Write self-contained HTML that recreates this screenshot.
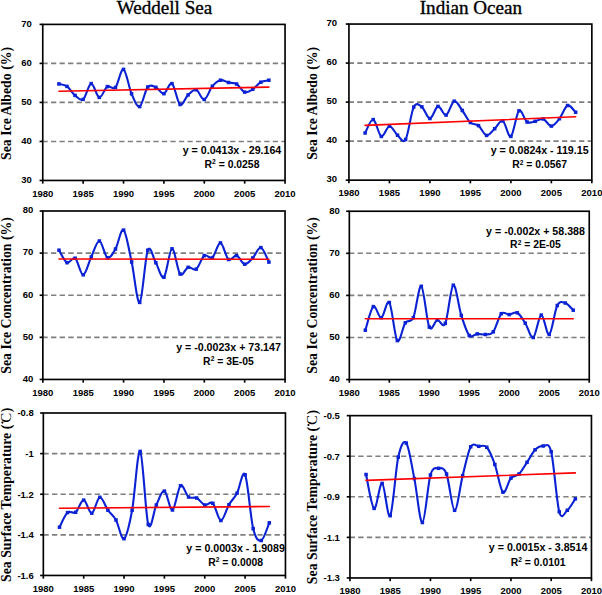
<!DOCTYPE html>
<html><head><meta charset="utf-8"><style>
html,body{margin:0;padding:0;background:#fff;}
svg{display:block;}

.tk{font-family:"Liberation Sans",sans-serif;font-weight:bold;font-size:9.5px;fill:#000;}
.eq{font-family:"Liberation Sans",sans-serif;font-weight:bold;font-size:10.65px;fill:#000;}
.sup{font-size:6.6px;}
.eq2{font-family:"Liberation Sans",sans-serif;font-weight:bold;font-size:10.4px;fill:#000;}
.ttl{font-family:"Liberation Serif",serif;font-size:19.1px;fill:#000;stroke:#000;stroke-width:0.35px;}
.yl{font-family:"Liberation Serif",serif;font-weight:bold;font-size:13.8px;fill:#000;}
</style></head><body>
<svg width="602" height="595" viewBox="0 0 602 595">
<rect width="602" height="595" fill="#fff"/>
<line x1="42.75" y1="63.41" x2="285.05" y2="63.41" stroke="#7f7f7f" stroke-width="1.6" stroke-dasharray="5.246 3.284" stroke-dashoffset="0.28"/>
<line x1="42.75" y1="102.42" x2="285.05" y2="102.42" stroke="#7f7f7f" stroke-width="1.6" stroke-dasharray="5.246 3.284" stroke-dashoffset="0.28"/>
<line x1="42.75" y1="141.44" x2="285.05" y2="141.44" stroke="#7f7f7f" stroke-width="1.6" stroke-dasharray="5.246 3.284" stroke-dashoffset="0.28"/>
<rect x="42.75" y="24.40" width="242.30" height="156.05" fill="none" stroke="#000" stroke-width="1.65"/>
<line x1="39.55" y1="24.40" x2="42.75" y2="24.40" stroke="#000" stroke-width="1.65"/>
<text transform="translate(31.80,26.70) scale(1,1.05)" text-anchor="end" class="tk">70</text>
<line x1="39.55" y1="63.41" x2="42.75" y2="63.41" stroke="#000" stroke-width="1.65"/>
<text transform="translate(31.80,65.71) scale(1,1.05)" text-anchor="end" class="tk">60</text>
<line x1="39.55" y1="102.42" x2="42.75" y2="102.42" stroke="#000" stroke-width="1.65"/>
<text transform="translate(31.80,104.72) scale(1,1.05)" text-anchor="end" class="tk">50</text>
<line x1="39.55" y1="141.44" x2="42.75" y2="141.44" stroke="#000" stroke-width="1.65"/>
<text transform="translate(31.80,143.74) scale(1,1.05)" text-anchor="end" class="tk">40</text>
<line x1="39.55" y1="180.45" x2="42.75" y2="180.45" stroke="#000" stroke-width="1.65"/>
<text transform="translate(31.80,182.75) scale(1,1.05)" text-anchor="end" class="tk">30</text>
<line x1="42.75" y1="180.45" x2="42.75" y2="183.65" stroke="#000" stroke-width="1.65"/>
<text transform="translate(42.75,196.65) scale(1,1.05)" text-anchor="middle" class="tk">1980</text>
<line x1="83.13" y1="180.45" x2="83.13" y2="183.65" stroke="#000" stroke-width="1.65"/>
<text transform="translate(83.13,196.65) scale(1,1.05)" text-anchor="middle" class="tk">1985</text>
<line x1="123.52" y1="180.45" x2="123.52" y2="183.65" stroke="#000" stroke-width="1.65"/>
<text transform="translate(123.52,196.65) scale(1,1.05)" text-anchor="middle" class="tk">1990</text>
<line x1="163.90" y1="180.45" x2="163.90" y2="183.65" stroke="#000" stroke-width="1.65"/>
<text transform="translate(163.90,196.65) scale(1,1.05)" text-anchor="middle" class="tk">1995</text>
<line x1="204.28" y1="180.45" x2="204.28" y2="183.65" stroke="#000" stroke-width="1.65"/>
<text transform="translate(204.28,196.65) scale(1,1.05)" text-anchor="middle" class="tk">2000</text>
<line x1="244.67" y1="180.45" x2="244.67" y2="183.65" stroke="#000" stroke-width="1.65"/>
<text transform="translate(244.67,196.65) scale(1,1.05)" text-anchor="middle" class="tk">2005</text>
<line x1="285.05" y1="180.45" x2="285.05" y2="183.65" stroke="#000" stroke-width="1.65"/>
<text transform="translate(285.05,196.65) scale(1,1.05)" text-anchor="middle" class="tk">2010</text>
<path d="M58.90 83.90 C60.25 84.32 64.29 84.48 66.98 86.40 C69.67 88.32 72.36 93.23 75.06 95.40 C77.75 97.57 80.44 101.37 83.13 99.40 C85.83 97.43 88.52 83.93 91.21 83.60 C93.90 83.27 96.59 96.90 99.29 97.40 C101.98 97.90 104.67 88.25 107.36 86.60 C110.06 84.95 112.75 90.37 115.44 87.50 C118.13 84.63 120.82 68.35 123.52 69.40 C126.21 70.45 128.90 87.60 131.59 93.80 C134.29 100.00 136.98 107.73 139.67 106.60 C142.36 105.47 145.05 90.22 147.75 87.00 C150.44 83.78 153.13 86.18 155.82 87.30 C158.52 88.42 161.21 94.32 163.90 93.70 C166.59 93.08 169.28 81.80 171.98 83.60 C174.67 85.40 177.36 102.62 180.05 104.50 C182.75 106.38 185.44 97.35 188.13 94.90 C190.82 92.45 193.51 89.03 196.21 89.80 C198.90 90.57 201.59 100.10 204.28 99.50 C206.98 98.90 209.67 89.42 212.36 86.20 C215.05 82.98 217.74 80.82 220.44 80.20 C223.13 79.58 225.82 81.87 228.51 82.50 C231.21 83.13 233.90 82.40 236.59 84.00 C239.28 85.60 241.97 91.22 244.67 92.10 C247.36 92.98 250.05 90.95 252.74 89.30 C255.44 87.65 258.13 83.72 260.82 82.20 C263.51 80.68 267.55 80.53 268.90 80.20" fill="none" stroke="#0a22d4" stroke-width="2.1" stroke-linejoin="round"/>
<rect x="57.15" y="82.15" width="3.5" height="3.5" fill="#0a22d4"/>
<rect x="65.23" y="84.65" width="3.5" height="3.5" fill="#0a22d4"/>
<rect x="73.31" y="93.65" width="3.5" height="3.5" fill="#0a22d4"/>
<rect x="81.38" y="97.65" width="3.5" height="3.5" fill="#0a22d4"/>
<rect x="89.46" y="81.85" width="3.5" height="3.5" fill="#0a22d4"/>
<rect x="97.54" y="95.65" width="3.5" height="3.5" fill="#0a22d4"/>
<rect x="105.61" y="84.85" width="3.5" height="3.5" fill="#0a22d4"/>
<rect x="113.69" y="85.75" width="3.5" height="3.5" fill="#0a22d4"/>
<rect x="121.77" y="67.65" width="3.5" height="3.5" fill="#0a22d4"/>
<rect x="129.84" y="92.05" width="3.5" height="3.5" fill="#0a22d4"/>
<rect x="137.92" y="104.85" width="3.5" height="3.5" fill="#0a22d4"/>
<rect x="146.00" y="85.25" width="3.5" height="3.5" fill="#0a22d4"/>
<rect x="154.07" y="85.55" width="3.5" height="3.5" fill="#0a22d4"/>
<rect x="162.15" y="91.95" width="3.5" height="3.5" fill="#0a22d4"/>
<rect x="170.23" y="81.85" width="3.5" height="3.5" fill="#0a22d4"/>
<rect x="178.30" y="102.75" width="3.5" height="3.5" fill="#0a22d4"/>
<rect x="186.38" y="93.15" width="3.5" height="3.5" fill="#0a22d4"/>
<rect x="194.46" y="88.05" width="3.5" height="3.5" fill="#0a22d4"/>
<rect x="202.53" y="97.75" width="3.5" height="3.5" fill="#0a22d4"/>
<rect x="210.61" y="84.45" width="3.5" height="3.5" fill="#0a22d4"/>
<rect x="218.69" y="78.45" width="3.5" height="3.5" fill="#0a22d4"/>
<rect x="226.76" y="80.75" width="3.5" height="3.5" fill="#0a22d4"/>
<rect x="234.84" y="82.25" width="3.5" height="3.5" fill="#0a22d4"/>
<rect x="242.92" y="90.35" width="3.5" height="3.5" fill="#0a22d4"/>
<rect x="250.99" y="87.55" width="3.5" height="3.5" fill="#0a22d4"/>
<rect x="259.07" y="80.45" width="3.5" height="3.5" fill="#0a22d4"/>
<rect x="267.15" y="78.45" width="3.5" height="3.5" fill="#0a22d4"/>
<line x1="58.90" y1="91.20" x2="268.90" y2="87.10" stroke="#ff0000" stroke-width="1.6" stroke-linecap="round"/>
<line x1="42.84" y1="253.11" x2="285.05" y2="253.11" stroke="#7f7f7f" stroke-width="1.6" stroke-dasharray="5.320 3.330" stroke-dashoffset="0.49"/>
<line x1="42.84" y1="295.23" x2="285.05" y2="295.23" stroke="#7f7f7f" stroke-width="1.6" stroke-dasharray="5.320 3.330" stroke-dashoffset="0.49"/>
<line x1="42.84" y1="337.34" x2="285.05" y2="337.34" stroke="#7f7f7f" stroke-width="1.6" stroke-dasharray="5.320 3.330" stroke-dashoffset="0.49"/>
<rect x="42.84" y="211.00" width="242.21" height="168.45" fill="none" stroke="#000" stroke-width="1.65"/>
<line x1="39.64" y1="211.00" x2="42.84" y2="211.00" stroke="#000" stroke-width="1.65"/>
<text transform="translate(33.30,213.30) scale(1,1.05)" text-anchor="end" class="tk">80</text>
<line x1="39.64" y1="253.11" x2="42.84" y2="253.11" stroke="#000" stroke-width="1.65"/>
<text transform="translate(33.30,255.41) scale(1,1.05)" text-anchor="end" class="tk">70</text>
<line x1="39.64" y1="295.23" x2="42.84" y2="295.23" stroke="#000" stroke-width="1.65"/>
<text transform="translate(33.30,297.53) scale(1,1.05)" text-anchor="end" class="tk">60</text>
<line x1="39.64" y1="337.34" x2="42.84" y2="337.34" stroke="#000" stroke-width="1.65"/>
<text transform="translate(33.30,339.64) scale(1,1.05)" text-anchor="end" class="tk">50</text>
<line x1="39.64" y1="379.45" x2="42.84" y2="379.45" stroke="#000" stroke-width="1.65"/>
<text transform="translate(33.30,381.75) scale(1,1.05)" text-anchor="end" class="tk">40</text>
<line x1="42.84" y1="379.45" x2="42.84" y2="382.65" stroke="#000" stroke-width="1.65"/>
<text transform="translate(42.84,395.65) scale(1,1.05)" text-anchor="middle" class="tk">1980</text>
<line x1="83.21" y1="379.45" x2="83.21" y2="382.65" stroke="#000" stroke-width="1.65"/>
<text transform="translate(83.21,395.65) scale(1,1.05)" text-anchor="middle" class="tk">1985</text>
<line x1="123.58" y1="379.45" x2="123.58" y2="382.65" stroke="#000" stroke-width="1.65"/>
<text transform="translate(123.58,395.65) scale(1,1.05)" text-anchor="middle" class="tk">1990</text>
<line x1="163.94" y1="379.45" x2="163.94" y2="382.65" stroke="#000" stroke-width="1.65"/>
<text transform="translate(163.94,395.65) scale(1,1.05)" text-anchor="middle" class="tk">1995</text>
<line x1="204.31" y1="379.45" x2="204.31" y2="382.65" stroke="#000" stroke-width="1.65"/>
<text transform="translate(204.31,395.65) scale(1,1.05)" text-anchor="middle" class="tk">2000</text>
<line x1="244.68" y1="379.45" x2="244.68" y2="382.65" stroke="#000" stroke-width="1.65"/>
<text transform="translate(244.68,395.65) scale(1,1.05)" text-anchor="middle" class="tk">2005</text>
<line x1="285.05" y1="379.45" x2="285.05" y2="382.65" stroke="#000" stroke-width="1.65"/>
<text transform="translate(285.05,395.65) scale(1,1.05)" text-anchor="middle" class="tk">2010</text>
<path d="M58.99 250.20 C60.33 252.28 64.37 261.37 67.06 262.70 C69.75 264.03 72.44 256.18 75.13 258.20 C77.83 260.22 80.52 275.02 83.21 274.80 C85.90 274.58 88.59 262.53 91.28 256.90 C93.97 251.27 96.66 240.87 99.36 241.00 C102.05 241.13 104.74 256.37 107.43 257.70 C110.12 259.03 112.81 253.60 115.50 249.00 C118.19 244.40 120.89 227.93 123.58 230.10 C126.27 232.27 128.96 249.95 131.65 262.00 C134.34 274.05 137.03 304.37 139.72 302.40 C142.42 300.43 145.11 256.80 147.80 250.20 C150.49 243.60 153.18 258.30 155.87 262.80 C158.56 267.30 161.25 279.53 163.94 277.20 C166.64 274.87 169.33 249.33 172.02 248.80 C174.71 248.27 177.40 270.92 180.09 274.00 C182.78 277.08 185.47 268.12 188.17 267.30 C190.86 266.48 193.55 271.05 196.24 269.10 C198.93 267.15 201.62 257.52 204.31 255.60 C207.00 253.68 209.70 259.72 212.39 257.60 C215.08 255.48 217.77 242.58 220.46 242.90 C223.15 243.22 225.84 257.38 228.53 259.50 C231.23 261.62 233.92 254.82 236.61 255.60 C239.30 256.38 241.99 263.80 244.68 264.20 C247.37 264.60 250.06 260.77 252.76 258.00 C255.45 255.23 258.14 246.92 260.83 247.60 C263.52 248.28 267.56 259.68 268.90 262.10" fill="none" stroke="#0a22d4" stroke-width="2.1" stroke-linejoin="round"/>
<rect x="57.24" y="248.45" width="3.5" height="3.5" fill="#0a22d4"/>
<rect x="65.31" y="260.95" width="3.5" height="3.5" fill="#0a22d4"/>
<rect x="73.38" y="256.45" width="3.5" height="3.5" fill="#0a22d4"/>
<rect x="81.46" y="273.05" width="3.5" height="3.5" fill="#0a22d4"/>
<rect x="89.53" y="255.15" width="3.5" height="3.5" fill="#0a22d4"/>
<rect x="97.61" y="239.25" width="3.5" height="3.5" fill="#0a22d4"/>
<rect x="105.68" y="255.95" width="3.5" height="3.5" fill="#0a22d4"/>
<rect x="113.75" y="247.25" width="3.5" height="3.5" fill="#0a22d4"/>
<rect x="121.83" y="228.35" width="3.5" height="3.5" fill="#0a22d4"/>
<rect x="129.90" y="260.25" width="3.5" height="3.5" fill="#0a22d4"/>
<rect x="137.97" y="300.65" width="3.5" height="3.5" fill="#0a22d4"/>
<rect x="146.05" y="248.45" width="3.5" height="3.5" fill="#0a22d4"/>
<rect x="154.12" y="261.05" width="3.5" height="3.5" fill="#0a22d4"/>
<rect x="162.19" y="275.45" width="3.5" height="3.5" fill="#0a22d4"/>
<rect x="170.27" y="247.05" width="3.5" height="3.5" fill="#0a22d4"/>
<rect x="178.34" y="272.25" width="3.5" height="3.5" fill="#0a22d4"/>
<rect x="186.42" y="265.55" width="3.5" height="3.5" fill="#0a22d4"/>
<rect x="194.49" y="267.35" width="3.5" height="3.5" fill="#0a22d4"/>
<rect x="202.56" y="253.85" width="3.5" height="3.5" fill="#0a22d4"/>
<rect x="210.64" y="255.85" width="3.5" height="3.5" fill="#0a22d4"/>
<rect x="218.71" y="241.15" width="3.5" height="3.5" fill="#0a22d4"/>
<rect x="226.78" y="257.75" width="3.5" height="3.5" fill="#0a22d4"/>
<rect x="234.86" y="253.85" width="3.5" height="3.5" fill="#0a22d4"/>
<rect x="242.93" y="262.45" width="3.5" height="3.5" fill="#0a22d4"/>
<rect x="251.01" y="256.25" width="3.5" height="3.5" fill="#0a22d4"/>
<rect x="259.08" y="245.85" width="3.5" height="3.5" fill="#0a22d4"/>
<rect x="267.15" y="260.35" width="3.5" height="3.5" fill="#0a22d4"/>
<line x1="58.99" y1="259.00" x2="268.90" y2="259.30" stroke="#ff0000" stroke-width="1.6" stroke-linecap="round"/>
<line x1="43.34" y1="453.61" x2="285.45" y2="453.61" stroke="#7f7f7f" stroke-width="1.6" stroke-dasharray="5.264 3.296" stroke-dashoffset="-0.10"/>
<line x1="43.34" y1="494.23" x2="285.45" y2="494.23" stroke="#7f7f7f" stroke-width="1.6" stroke-dasharray="5.264 3.296" stroke-dashoffset="-0.10"/>
<line x1="43.34" y1="534.84" x2="285.45" y2="534.84" stroke="#7f7f7f" stroke-width="1.6" stroke-dasharray="5.264 3.296" stroke-dashoffset="-0.10"/>
<rect x="43.34" y="413.00" width="242.11" height="162.45" fill="none" stroke="#000" stroke-width="1.65"/>
<line x1="40.14" y1="413.00" x2="43.34" y2="413.00" stroke="#000" stroke-width="1.65"/>
<text transform="translate(33.80,416.30) scale(1,1.05)" text-anchor="end" class="tk">-0.8</text>
<line x1="40.14" y1="453.61" x2="43.34" y2="453.61" stroke="#000" stroke-width="1.65"/>
<text transform="translate(33.80,456.91) scale(1,1.05)" text-anchor="end" class="tk">-1</text>
<line x1="40.14" y1="494.23" x2="43.34" y2="494.23" stroke="#000" stroke-width="1.65"/>
<text transform="translate(33.80,497.53) scale(1,1.05)" text-anchor="end" class="tk">-1.2</text>
<line x1="40.14" y1="534.84" x2="43.34" y2="534.84" stroke="#000" stroke-width="1.65"/>
<text transform="translate(33.80,538.14) scale(1,1.05)" text-anchor="end" class="tk">-1.4</text>
<line x1="40.14" y1="575.45" x2="43.34" y2="575.45" stroke="#000" stroke-width="1.65"/>
<text transform="translate(33.80,578.75) scale(1,1.05)" text-anchor="end" class="tk">-1.6</text>
<line x1="43.34" y1="575.45" x2="43.34" y2="578.65" stroke="#000" stroke-width="1.65"/>
<text transform="translate(43.34,591.65) scale(1,1.05)" text-anchor="middle" class="tk">1980</text>
<line x1="83.69" y1="575.45" x2="83.69" y2="578.65" stroke="#000" stroke-width="1.65"/>
<text transform="translate(83.69,591.65) scale(1,1.05)" text-anchor="middle" class="tk">1985</text>
<line x1="124.04" y1="575.45" x2="124.04" y2="578.65" stroke="#000" stroke-width="1.65"/>
<text transform="translate(124.04,591.65) scale(1,1.05)" text-anchor="middle" class="tk">1990</text>
<line x1="164.39" y1="575.45" x2="164.39" y2="578.65" stroke="#000" stroke-width="1.65"/>
<text transform="translate(164.39,591.65) scale(1,1.05)" text-anchor="middle" class="tk">1995</text>
<line x1="204.75" y1="575.45" x2="204.75" y2="578.65" stroke="#000" stroke-width="1.65"/>
<text transform="translate(204.75,591.65) scale(1,1.05)" text-anchor="middle" class="tk">2000</text>
<line x1="245.10" y1="575.45" x2="245.10" y2="578.65" stroke="#000" stroke-width="1.65"/>
<text transform="translate(245.10,591.65) scale(1,1.05)" text-anchor="middle" class="tk">2005</text>
<line x1="285.45" y1="575.45" x2="285.45" y2="578.65" stroke="#000" stroke-width="1.65"/>
<text transform="translate(285.45,591.65) scale(1,1.05)" text-anchor="middle" class="tk">2010</text>
<path d="M59.48 527.20 C60.83 524.77 64.86 515.08 67.55 512.60 C70.24 510.12 72.93 514.38 75.62 512.30 C78.31 510.22 81.00 499.95 83.69 500.10 C86.38 500.25 89.07 513.67 91.76 513.20 C94.45 512.73 97.14 497.80 99.83 497.30 C102.52 496.80 105.21 506.42 107.90 510.20 C110.59 513.98 113.28 515.25 115.97 520.00 C118.66 524.75 121.35 540.32 124.04 538.70 C126.73 537.08 129.42 524.85 132.11 510.30 C134.80 495.75 137.49 449.03 140.18 451.40 C142.87 453.77 145.56 515.57 148.25 524.50 C150.94 533.43 153.63 510.57 156.32 505.00 C159.01 499.43 161.70 490.27 164.39 491.10 C167.09 491.93 169.78 510.90 172.47 510.00 C175.16 509.10 177.85 487.87 180.54 485.70 C183.23 483.53 185.92 494.95 188.61 497.00 C191.30 499.05 193.99 496.67 196.68 498.00 C199.37 499.33 202.06 504.12 204.75 505.00 C207.44 505.88 210.13 500.72 212.82 503.30 C215.51 505.88 218.20 520.27 220.89 520.50 C223.58 520.73 226.27 509.25 228.96 504.70 C231.65 500.15 234.34 498.18 237.03 493.20 C239.72 488.22 242.41 468.90 245.10 474.80 C247.79 480.70 250.48 517.65 253.17 528.60 C255.86 539.55 258.55 541.47 261.24 540.50 C263.93 539.53 267.96 525.75 269.31 522.80" fill="none" stroke="#0a22d4" stroke-width="2.1" stroke-linejoin="round"/>
<rect x="57.73" y="525.45" width="3.5" height="3.5" fill="#0a22d4"/>
<rect x="65.80" y="510.85" width="3.5" height="3.5" fill="#0a22d4"/>
<rect x="73.87" y="510.55" width="3.5" height="3.5" fill="#0a22d4"/>
<rect x="81.94" y="498.35" width="3.5" height="3.5" fill="#0a22d4"/>
<rect x="90.01" y="511.45" width="3.5" height="3.5" fill="#0a22d4"/>
<rect x="98.08" y="495.55" width="3.5" height="3.5" fill="#0a22d4"/>
<rect x="106.15" y="508.45" width="3.5" height="3.5" fill="#0a22d4"/>
<rect x="114.22" y="518.25" width="3.5" height="3.5" fill="#0a22d4"/>
<rect x="122.29" y="536.95" width="3.5" height="3.5" fill="#0a22d4"/>
<rect x="130.36" y="508.55" width="3.5" height="3.5" fill="#0a22d4"/>
<rect x="138.43" y="449.65" width="3.5" height="3.5" fill="#0a22d4"/>
<rect x="146.50" y="522.75" width="3.5" height="3.5" fill="#0a22d4"/>
<rect x="154.57" y="503.25" width="3.5" height="3.5" fill="#0a22d4"/>
<rect x="162.64" y="489.35" width="3.5" height="3.5" fill="#0a22d4"/>
<rect x="170.72" y="508.25" width="3.5" height="3.5" fill="#0a22d4"/>
<rect x="178.79" y="483.95" width="3.5" height="3.5" fill="#0a22d4"/>
<rect x="186.86" y="495.25" width="3.5" height="3.5" fill="#0a22d4"/>
<rect x="194.93" y="496.25" width="3.5" height="3.5" fill="#0a22d4"/>
<rect x="203.00" y="503.25" width="3.5" height="3.5" fill="#0a22d4"/>
<rect x="211.07" y="501.55" width="3.5" height="3.5" fill="#0a22d4"/>
<rect x="219.14" y="518.75" width="3.5" height="3.5" fill="#0a22d4"/>
<rect x="227.21" y="502.95" width="3.5" height="3.5" fill="#0a22d4"/>
<rect x="235.28" y="491.45" width="3.5" height="3.5" fill="#0a22d4"/>
<rect x="243.35" y="473.05" width="3.5" height="3.5" fill="#0a22d4"/>
<rect x="251.42" y="526.85" width="3.5" height="3.5" fill="#0a22d4"/>
<rect x="259.49" y="538.75" width="3.5" height="3.5" fill="#0a22d4"/>
<rect x="267.56" y="521.05" width="3.5" height="3.5" fill="#0a22d4"/>
<line x1="59.48" y1="508.30" x2="269.31" y2="506.50" stroke="#ff0000" stroke-width="1.6" stroke-linecap="round"/>
<line x1="348.94" y1="63.08" x2="591.85" y2="63.08" stroke="#7f7f7f" stroke-width="1.6" stroke-dasharray="5.246 3.284" stroke-dashoffset="0.17"/>
<line x1="348.94" y1="102.10" x2="591.85" y2="102.10" stroke="#7f7f7f" stroke-width="1.6" stroke-dasharray="5.246 3.284" stroke-dashoffset="0.17"/>
<line x1="348.94" y1="141.12" x2="591.85" y2="141.12" stroke="#7f7f7f" stroke-width="1.6" stroke-dasharray="5.246 3.284" stroke-dashoffset="0.17"/>
<rect x="348.94" y="24.05" width="242.91" height="156.10" fill="none" stroke="#000" stroke-width="1.65"/>
<line x1="345.74" y1="24.05" x2="348.94" y2="24.05" stroke="#000" stroke-width="1.65"/>
<text transform="translate(337.00,26.35) scale(1,1.05)" text-anchor="end" class="tk">70</text>
<line x1="345.74" y1="63.08" x2="348.94" y2="63.08" stroke="#000" stroke-width="1.65"/>
<text transform="translate(337.00,65.38) scale(1,1.05)" text-anchor="end" class="tk">60</text>
<line x1="345.74" y1="102.10" x2="348.94" y2="102.10" stroke="#000" stroke-width="1.65"/>
<text transform="translate(337.00,104.40) scale(1,1.05)" text-anchor="end" class="tk">50</text>
<line x1="345.74" y1="141.12" x2="348.94" y2="141.12" stroke="#000" stroke-width="1.65"/>
<text transform="translate(337.00,143.43) scale(1,1.05)" text-anchor="end" class="tk">40</text>
<line x1="345.74" y1="180.15" x2="348.94" y2="180.15" stroke="#000" stroke-width="1.65"/>
<text transform="translate(337.00,182.45) scale(1,1.05)" text-anchor="end" class="tk">30</text>
<line x1="348.94" y1="180.15" x2="348.94" y2="183.35" stroke="#000" stroke-width="1.65"/>
<text transform="translate(348.94,196.35) scale(1,1.05)" text-anchor="middle" class="tk">1980</text>
<line x1="389.43" y1="180.15" x2="389.43" y2="183.35" stroke="#000" stroke-width="1.65"/>
<text transform="translate(389.43,196.35) scale(1,1.05)" text-anchor="middle" class="tk">1985</text>
<line x1="429.91" y1="180.15" x2="429.91" y2="183.35" stroke="#000" stroke-width="1.65"/>
<text transform="translate(429.91,196.35) scale(1,1.05)" text-anchor="middle" class="tk">1990</text>
<line x1="470.39" y1="180.15" x2="470.39" y2="183.35" stroke="#000" stroke-width="1.65"/>
<text transform="translate(470.39,196.35) scale(1,1.05)" text-anchor="middle" class="tk">1995</text>
<line x1="510.88" y1="180.15" x2="510.88" y2="183.35" stroke="#000" stroke-width="1.65"/>
<text transform="translate(510.88,196.35) scale(1,1.05)" text-anchor="middle" class="tk">2000</text>
<line x1="551.37" y1="180.15" x2="551.37" y2="183.35" stroke="#000" stroke-width="1.65"/>
<text transform="translate(551.37,196.35) scale(1,1.05)" text-anchor="middle" class="tk">2005</text>
<line x1="591.85" y1="180.15" x2="591.85" y2="183.35" stroke="#000" stroke-width="1.65"/>
<text transform="translate(591.85,196.35) scale(1,1.05)" text-anchor="middle" class="tk">2010</text>
<path d="M365.13 133.00 C366.48 130.77 370.53 119.03 373.23 119.60 C375.93 120.17 378.63 135.30 381.33 136.40 C384.03 137.50 386.73 126.40 389.43 126.20 C392.12 126.00 394.82 132.98 397.52 135.20 C400.22 137.42 402.92 144.18 405.62 139.50 C408.32 134.82 411.02 112.55 413.72 107.10 C416.42 101.65 419.11 104.90 421.81 106.80 C424.51 108.70 427.21 118.57 429.91 118.50 C432.61 118.43 435.31 106.97 438.01 106.40 C440.71 105.83 443.40 115.97 446.10 115.10 C448.80 114.23 451.50 101.97 454.20 101.20 C456.90 100.43 459.60 106.95 462.30 110.50 C465.00 114.05 467.70 119.98 470.39 122.50 C473.09 125.02 475.79 123.45 478.49 125.60 C481.19 127.75 483.89 134.88 486.59 135.40 C489.29 135.92 491.99 131.12 494.69 128.70 C497.39 126.28 500.08 119.62 502.78 120.90 C505.48 122.18 508.18 138.08 510.88 136.40 C513.58 134.72 516.28 113.20 518.98 110.80 C521.68 108.40 524.38 120.25 527.07 122.00 C529.77 123.75 532.47 121.80 535.17 121.30 C537.87 120.80 540.57 118.20 543.27 119.00 C545.97 119.80 548.67 126.15 551.37 126.10 C554.06 126.05 556.76 122.13 559.46 118.70 C562.16 115.27 564.86 106.57 567.56 105.50 C570.26 104.43 574.31 111.17 575.66 112.30" fill="none" stroke="#0a22d4" stroke-width="2.1" stroke-linejoin="round"/>
<rect x="363.38" y="131.25" width="3.5" height="3.5" fill="#0a22d4"/>
<rect x="371.48" y="117.85" width="3.5" height="3.5" fill="#0a22d4"/>
<rect x="379.58" y="134.65" width="3.5" height="3.5" fill="#0a22d4"/>
<rect x="387.68" y="124.45" width="3.5" height="3.5" fill="#0a22d4"/>
<rect x="395.77" y="133.45" width="3.5" height="3.5" fill="#0a22d4"/>
<rect x="403.87" y="137.75" width="3.5" height="3.5" fill="#0a22d4"/>
<rect x="411.97" y="105.35" width="3.5" height="3.5" fill="#0a22d4"/>
<rect x="420.06" y="105.05" width="3.5" height="3.5" fill="#0a22d4"/>
<rect x="428.16" y="116.75" width="3.5" height="3.5" fill="#0a22d4"/>
<rect x="436.26" y="104.65" width="3.5" height="3.5" fill="#0a22d4"/>
<rect x="444.35" y="113.35" width="3.5" height="3.5" fill="#0a22d4"/>
<rect x="452.45" y="99.45" width="3.5" height="3.5" fill="#0a22d4"/>
<rect x="460.55" y="108.75" width="3.5" height="3.5" fill="#0a22d4"/>
<rect x="468.64" y="120.75" width="3.5" height="3.5" fill="#0a22d4"/>
<rect x="476.74" y="123.85" width="3.5" height="3.5" fill="#0a22d4"/>
<rect x="484.84" y="133.65" width="3.5" height="3.5" fill="#0a22d4"/>
<rect x="492.94" y="126.95" width="3.5" height="3.5" fill="#0a22d4"/>
<rect x="501.03" y="119.15" width="3.5" height="3.5" fill="#0a22d4"/>
<rect x="509.13" y="134.65" width="3.5" height="3.5" fill="#0a22d4"/>
<rect x="517.23" y="109.05" width="3.5" height="3.5" fill="#0a22d4"/>
<rect x="525.32" y="120.25" width="3.5" height="3.5" fill="#0a22d4"/>
<rect x="533.42" y="119.55" width="3.5" height="3.5" fill="#0a22d4"/>
<rect x="541.52" y="117.25" width="3.5" height="3.5" fill="#0a22d4"/>
<rect x="549.62" y="124.35" width="3.5" height="3.5" fill="#0a22d4"/>
<rect x="557.71" y="116.95" width="3.5" height="3.5" fill="#0a22d4"/>
<rect x="565.81" y="103.75" width="3.5" height="3.5" fill="#0a22d4"/>
<rect x="573.91" y="110.55" width="3.5" height="3.5" fill="#0a22d4"/>
<line x1="365.13" y1="125.40" x2="575.66" y2="116.80" stroke="#ff0000" stroke-width="1.6" stroke-linecap="round"/>
<line x1="349.34" y1="253.32" x2="589.25" y2="253.32" stroke="#7f7f7f" stroke-width="1.6" stroke-dasharray="5.258 3.292" stroke-dashoffset="0.29"/>
<line x1="349.34" y1="295.40" x2="589.25" y2="295.40" stroke="#7f7f7f" stroke-width="1.6" stroke-dasharray="5.258 3.292" stroke-dashoffset="0.29"/>
<line x1="349.34" y1="337.48" x2="589.25" y2="337.48" stroke="#7f7f7f" stroke-width="1.6" stroke-dasharray="5.258 3.292" stroke-dashoffset="0.29"/>
<rect x="349.34" y="211.25" width="239.91" height="168.30" fill="none" stroke="#000" stroke-width="1.65"/>
<line x1="346.14" y1="211.25" x2="349.34" y2="211.25" stroke="#000" stroke-width="1.65"/>
<text transform="translate(339.90,213.55) scale(1,1.05)" text-anchor="end" class="tk">80</text>
<line x1="346.14" y1="253.32" x2="349.34" y2="253.32" stroke="#000" stroke-width="1.65"/>
<text transform="translate(339.90,255.62) scale(1,1.05)" text-anchor="end" class="tk">70</text>
<line x1="346.14" y1="295.40" x2="349.34" y2="295.40" stroke="#000" stroke-width="1.65"/>
<text transform="translate(339.90,297.70) scale(1,1.05)" text-anchor="end" class="tk">60</text>
<line x1="346.14" y1="337.48" x2="349.34" y2="337.48" stroke="#000" stroke-width="1.65"/>
<text transform="translate(339.90,339.78) scale(1,1.05)" text-anchor="end" class="tk">50</text>
<line x1="346.14" y1="379.55" x2="349.34" y2="379.55" stroke="#000" stroke-width="1.65"/>
<text transform="translate(339.90,381.85) scale(1,1.05)" text-anchor="end" class="tk">40</text>
<line x1="349.34" y1="379.55" x2="349.34" y2="382.75" stroke="#000" stroke-width="1.65"/>
<text transform="translate(349.34,395.75) scale(1,1.05)" text-anchor="middle" class="tk">1980</text>
<line x1="389.32" y1="379.55" x2="389.32" y2="382.75" stroke="#000" stroke-width="1.65"/>
<text transform="translate(389.32,395.75) scale(1,1.05)" text-anchor="middle" class="tk">1985</text>
<line x1="429.31" y1="379.55" x2="429.31" y2="382.75" stroke="#000" stroke-width="1.65"/>
<text transform="translate(429.31,395.75) scale(1,1.05)" text-anchor="middle" class="tk">1990</text>
<line x1="469.29" y1="379.55" x2="469.29" y2="382.75" stroke="#000" stroke-width="1.65"/>
<text transform="translate(469.29,395.75) scale(1,1.05)" text-anchor="middle" class="tk">1995</text>
<line x1="509.28" y1="379.55" x2="509.28" y2="382.75" stroke="#000" stroke-width="1.65"/>
<text transform="translate(509.28,395.75) scale(1,1.05)" text-anchor="middle" class="tk">2000</text>
<line x1="549.26" y1="379.55" x2="549.26" y2="382.75" stroke="#000" stroke-width="1.65"/>
<text transform="translate(549.26,395.75) scale(1,1.05)" text-anchor="middle" class="tk">2005</text>
<line x1="589.25" y1="379.55" x2="589.25" y2="382.75" stroke="#000" stroke-width="1.65"/>
<text transform="translate(589.25,395.75) scale(1,1.05)" text-anchor="middle" class="tk">2010</text>
<path d="M365.33 330.20 C366.67 326.27 370.67 308.68 373.33 306.60 C376.00 304.52 378.66 318.38 381.33 317.70 C383.99 317.02 386.66 298.68 389.32 302.50 C391.99 306.32 394.66 337.22 397.32 340.60 C399.99 343.98 402.65 326.62 405.32 322.80 C407.98 318.98 410.65 323.78 413.32 317.70 C415.98 311.62 418.65 284.73 421.31 286.30 C423.98 287.87 426.64 321.48 429.31 327.10 C431.98 332.72 434.64 320.62 437.31 320.00 C439.97 319.38 442.64 329.20 445.30 323.40 C447.97 317.60 450.64 286.53 453.30 285.20 C455.97 283.87 458.63 307.02 461.30 315.40 C463.96 323.78 466.63 332.42 469.29 335.50 C471.96 338.58 474.63 334.07 477.29 333.90 C479.96 333.73 482.62 334.85 485.29 334.50 C487.95 334.15 490.62 335.27 493.29 331.80 C495.95 328.33 498.62 316.57 501.28 313.70 C503.95 310.83 506.61 314.75 509.28 314.60 C511.95 314.45 514.61 311.37 517.28 312.80 C519.94 314.23 522.61 319.08 525.27 323.20 C527.94 327.32 530.61 338.85 533.27 337.50 C535.94 336.15 538.60 315.62 541.27 315.10 C543.93 314.58 546.60 336.00 549.26 334.40 C551.93 332.80 554.60 310.73 557.26 305.50 C559.93 300.27 562.59 302.22 565.26 303.00 C567.92 303.78 571.92 309.00 573.26 310.20" fill="none" stroke="#0a22d4" stroke-width="2.1" stroke-linejoin="round"/>
<rect x="363.58" y="328.45" width="3.5" height="3.5" fill="#0a22d4"/>
<rect x="371.58" y="304.85" width="3.5" height="3.5" fill="#0a22d4"/>
<rect x="379.58" y="315.95" width="3.5" height="3.5" fill="#0a22d4"/>
<rect x="387.57" y="300.75" width="3.5" height="3.5" fill="#0a22d4"/>
<rect x="395.57" y="338.85" width="3.5" height="3.5" fill="#0a22d4"/>
<rect x="403.57" y="321.05" width="3.5" height="3.5" fill="#0a22d4"/>
<rect x="411.57" y="315.95" width="3.5" height="3.5" fill="#0a22d4"/>
<rect x="419.56" y="284.55" width="3.5" height="3.5" fill="#0a22d4"/>
<rect x="427.56" y="325.35" width="3.5" height="3.5" fill="#0a22d4"/>
<rect x="435.56" y="318.25" width="3.5" height="3.5" fill="#0a22d4"/>
<rect x="443.55" y="321.65" width="3.5" height="3.5" fill="#0a22d4"/>
<rect x="451.55" y="283.45" width="3.5" height="3.5" fill="#0a22d4"/>
<rect x="459.55" y="313.65" width="3.5" height="3.5" fill="#0a22d4"/>
<rect x="467.54" y="333.75" width="3.5" height="3.5" fill="#0a22d4"/>
<rect x="475.54" y="332.15" width="3.5" height="3.5" fill="#0a22d4"/>
<rect x="483.54" y="332.75" width="3.5" height="3.5" fill="#0a22d4"/>
<rect x="491.54" y="330.05" width="3.5" height="3.5" fill="#0a22d4"/>
<rect x="499.53" y="311.95" width="3.5" height="3.5" fill="#0a22d4"/>
<rect x="507.53" y="312.85" width="3.5" height="3.5" fill="#0a22d4"/>
<rect x="515.53" y="311.05" width="3.5" height="3.5" fill="#0a22d4"/>
<rect x="523.52" y="321.45" width="3.5" height="3.5" fill="#0a22d4"/>
<rect x="531.52" y="335.75" width="3.5" height="3.5" fill="#0a22d4"/>
<rect x="539.52" y="313.35" width="3.5" height="3.5" fill="#0a22d4"/>
<rect x="547.51" y="332.65" width="3.5" height="3.5" fill="#0a22d4"/>
<rect x="555.51" y="303.75" width="3.5" height="3.5" fill="#0a22d4"/>
<rect x="563.51" y="301.25" width="3.5" height="3.5" fill="#0a22d4"/>
<rect x="571.51" y="308.45" width="3.5" height="3.5" fill="#0a22d4"/>
<line x1="365.33" y1="318.70" x2="573.26" y2="318.80" stroke="#ff0000" stroke-width="1.6" stroke-linecap="round"/>
<line x1="349.95" y1="456.23" x2="591.45" y2="456.23" stroke="#7f7f7f" stroke-width="1.6" stroke-dasharray="5.252 3.288" stroke-dashoffset="0.19"/>
<line x1="349.95" y1="496.80" x2="591.45" y2="496.80" stroke="#7f7f7f" stroke-width="1.6" stroke-dasharray="5.252 3.288" stroke-dashoffset="0.19"/>
<line x1="349.95" y1="537.38" x2="591.45" y2="537.38" stroke="#7f7f7f" stroke-width="1.6" stroke-dasharray="5.252 3.288" stroke-dashoffset="0.19"/>
<rect x="349.95" y="415.65" width="241.50" height="162.30" fill="none" stroke="#000" stroke-width="1.65"/>
<line x1="346.75" y1="415.65" x2="349.95" y2="415.65" stroke="#000" stroke-width="1.65"/>
<text transform="translate(339.90,418.95) scale(1,1.05)" text-anchor="end" class="tk">-0.5</text>
<line x1="346.75" y1="456.23" x2="349.95" y2="456.23" stroke="#000" stroke-width="1.65"/>
<text transform="translate(339.90,459.53) scale(1,1.05)" text-anchor="end" class="tk">-0.7</text>
<line x1="346.75" y1="496.80" x2="349.95" y2="496.80" stroke="#000" stroke-width="1.65"/>
<text transform="translate(339.90,500.10) scale(1,1.05)" text-anchor="end" class="tk">-0.9</text>
<line x1="346.75" y1="537.38" x2="349.95" y2="537.38" stroke="#000" stroke-width="1.65"/>
<text transform="translate(339.90,540.67) scale(1,1.05)" text-anchor="end" class="tk">-1.1</text>
<line x1="346.75" y1="577.95" x2="349.95" y2="577.95" stroke="#000" stroke-width="1.65"/>
<text transform="translate(339.90,581.25) scale(1,1.05)" text-anchor="end" class="tk">-1.3</text>
<line x1="349.95" y1="577.95" x2="349.95" y2="581.15" stroke="#000" stroke-width="1.65"/>
<text transform="translate(349.95,594.15) scale(1,1.05)" text-anchor="middle" class="tk">1980</text>
<line x1="390.20" y1="577.95" x2="390.20" y2="581.15" stroke="#000" stroke-width="1.65"/>
<text transform="translate(390.20,594.15) scale(1,1.05)" text-anchor="middle" class="tk">1985</text>
<line x1="430.45" y1="577.95" x2="430.45" y2="581.15" stroke="#000" stroke-width="1.65"/>
<text transform="translate(430.45,594.15) scale(1,1.05)" text-anchor="middle" class="tk">1990</text>
<line x1="470.70" y1="577.95" x2="470.70" y2="581.15" stroke="#000" stroke-width="1.65"/>
<text transform="translate(470.70,594.15) scale(1,1.05)" text-anchor="middle" class="tk">1995</text>
<line x1="510.95" y1="577.95" x2="510.95" y2="581.15" stroke="#000" stroke-width="1.65"/>
<text transform="translate(510.95,594.15) scale(1,1.05)" text-anchor="middle" class="tk">2000</text>
<line x1="551.20" y1="577.95" x2="551.20" y2="581.15" stroke="#000" stroke-width="1.65"/>
<text transform="translate(551.20,594.15) scale(1,1.05)" text-anchor="middle" class="tk">2005</text>
<line x1="591.45" y1="577.95" x2="591.45" y2="581.15" stroke="#000" stroke-width="1.65"/>
<text transform="translate(591.45,594.15) scale(1,1.05)" text-anchor="middle" class="tk">2010</text>
<path d="M366.05 474.50 C367.39 480.15 371.42 506.92 374.10 508.40 C376.78 509.88 379.47 482.18 382.15 483.40 C384.83 484.62 387.52 520.07 390.20 515.70 C392.88 511.33 395.57 469.30 398.25 457.20 C400.93 445.10 403.62 439.53 406.30 443.10 C408.98 446.67 411.67 465.37 414.35 478.60 C417.03 491.83 419.72 523.10 422.40 522.50 C425.08 521.90 427.77 484.03 430.45 475.00 C433.13 465.97 435.82 468.47 438.50 468.30 C441.18 468.13 443.87 467.00 446.55 474.00 C449.23 481.00 451.92 510.02 454.60 510.30 C457.28 510.58 459.97 486.28 462.65 475.70 C465.33 465.12 468.02 451.70 470.70 446.80 C473.38 441.90 476.07 446.22 478.75 446.30 C481.43 446.38 484.12 444.27 486.80 447.30 C489.48 450.33 492.17 457.02 494.85 464.50 C497.53 471.98 500.22 489.93 502.90 492.20 C505.58 494.47 508.27 481.13 510.95 478.10 C513.63 475.07 516.32 476.63 519.00 474.00 C521.68 471.37 524.37 466.33 527.05 462.30 C529.73 458.27 532.42 452.52 535.10 449.80 C537.78 447.08 540.47 445.67 543.15 446.00 C545.83 446.33 548.52 440.83 551.20 451.80 C553.88 462.77 556.57 502.05 559.25 511.80 C561.93 521.55 564.62 512.47 567.30 510.30 C569.98 508.13 574.01 500.72 575.35 498.80" fill="none" stroke="#0a22d4" stroke-width="2.1" stroke-linejoin="round"/>
<rect x="364.30" y="472.75" width="3.5" height="3.5" fill="#0a22d4"/>
<rect x="372.35" y="506.65" width="3.5" height="3.5" fill="#0a22d4"/>
<rect x="380.40" y="481.65" width="3.5" height="3.5" fill="#0a22d4"/>
<rect x="388.45" y="513.95" width="3.5" height="3.5" fill="#0a22d4"/>
<rect x="396.50" y="455.45" width="3.5" height="3.5" fill="#0a22d4"/>
<rect x="404.55" y="441.35" width="3.5" height="3.5" fill="#0a22d4"/>
<rect x="412.60" y="476.85" width="3.5" height="3.5" fill="#0a22d4"/>
<rect x="420.65" y="520.75" width="3.5" height="3.5" fill="#0a22d4"/>
<rect x="428.70" y="473.25" width="3.5" height="3.5" fill="#0a22d4"/>
<rect x="436.75" y="466.55" width="3.5" height="3.5" fill="#0a22d4"/>
<rect x="444.80" y="472.25" width="3.5" height="3.5" fill="#0a22d4"/>
<rect x="452.85" y="508.55" width="3.5" height="3.5" fill="#0a22d4"/>
<rect x="460.90" y="473.95" width="3.5" height="3.5" fill="#0a22d4"/>
<rect x="468.95" y="445.05" width="3.5" height="3.5" fill="#0a22d4"/>
<rect x="477.00" y="444.55" width="3.5" height="3.5" fill="#0a22d4"/>
<rect x="485.05" y="445.55" width="3.5" height="3.5" fill="#0a22d4"/>
<rect x="493.10" y="462.75" width="3.5" height="3.5" fill="#0a22d4"/>
<rect x="501.15" y="490.45" width="3.5" height="3.5" fill="#0a22d4"/>
<rect x="509.20" y="476.35" width="3.5" height="3.5" fill="#0a22d4"/>
<rect x="517.25" y="472.25" width="3.5" height="3.5" fill="#0a22d4"/>
<rect x="525.30" y="460.55" width="3.5" height="3.5" fill="#0a22d4"/>
<rect x="533.35" y="448.05" width="3.5" height="3.5" fill="#0a22d4"/>
<rect x="541.40" y="444.25" width="3.5" height="3.5" fill="#0a22d4"/>
<rect x="549.45" y="450.05" width="3.5" height="3.5" fill="#0a22d4"/>
<rect x="557.50" y="510.05" width="3.5" height="3.5" fill="#0a22d4"/>
<rect x="565.55" y="508.55" width="3.5" height="3.5" fill="#0a22d4"/>
<rect x="573.60" y="497.05" width="3.5" height="3.5" fill="#0a22d4"/>
<line x1="366.05" y1="480.40" x2="575.35" y2="472.90" stroke="#ff0000" stroke-width="1.6" stroke-linecap="round"/>
<text x="164.5" y="13.9" text-anchor="middle" class="ttl">Weddell Sea</text>
<text x="470.9" y="13.9" text-anchor="middle" class="ttl">Indian Ocean</text>
<text transform="translate(10.9,103.4) rotate(-90)" text-anchor="middle" class="yl">Sea Ice Albedo (%)</text>
<text transform="translate(10.9,295.4) rotate(-90)" text-anchor="middle" class="yl">Sea Ice Concentration (%)</text>
<text transform="translate(10.9,494.8) rotate(-90)" text-anchor="middle" class="yl">Sea Surface Temperature (<tspan style="font-weight:normal;font-size:14.5px" dx="2.2">C</tspan><tspan dx="0.6">)</tspan></text>
<text transform="translate(316.8,103.3) rotate(-90)" text-anchor="middle" class="yl">Sea Ice Albedo (%)</text>
<text transform="translate(317.4,295.4) rotate(-90)" text-anchor="middle" class="yl">Sea Ice Concentration (%)</text>
<text transform="translate(317.4,497.0) rotate(-90)" text-anchor="middle" class="yl">Sea Surface Temperature (<tspan style="font-weight:normal;font-size:14.5px" dx="2.2">C</tspan><tspan dx="0.6">)</tspan></text>
<circle cx="2.4" cy="422.6" r="1.05" fill="#000"/>
<circle cx="308.4" cy="425.0" r="1.05" fill="#000"/>
<text transform="translate(232,154) scale(1,0.97)" text-anchor="middle" class="eq">y = 0.0413x - 29.164</text>
<text transform="translate(232,167.9) scale(1,0.97)" text-anchor="middle" class="eq2">R<tspan class="sup" dy="-3.6">2</tspan><tspan dy="3.6"> = 0.0258</tspan></text>
<text transform="translate(228.5,351) scale(1,0.97)" text-anchor="middle" class="eq">y = -0.0023x + 73.147</text>
<text transform="translate(228.5,364.9) scale(1,0.97)" text-anchor="middle" class="eq2">R<tspan class="sup" dy="-3.6">2</tspan><tspan dy="3.6"> = 3E-05</tspan></text>
<text transform="translate(235.6,552) scale(1,0.97)" text-anchor="middle" class="eq">y = 0.0003x - 1.9089</text>
<text transform="translate(235.6,565.9) scale(1,0.97)" text-anchor="middle" class="eq2">R<tspan class="sup" dy="-3.6">2</tspan><tspan dy="3.6"> = 0.0008</tspan></text>
<text transform="translate(539.6,154.4) scale(1,0.97)" text-anchor="middle" class="eq">y = 0.0824x - 119.15</text>
<text transform="translate(539.6,168.3) scale(1,0.97)" text-anchor="middle" class="eq2">R<tspan class="sup" dy="-3.6">2</tspan><tspan dy="3.6"> = 0.0567</tspan></text>
<text transform="translate(535.5,234.5) scale(1,0.97)" text-anchor="middle" class="eq">y = -0.002x + 58.388</text>
<text transform="translate(535.5,248.4) scale(1,0.97)" text-anchor="middle" class="eq2">R<tspan class="sup" dy="-3.6">2</tspan><tspan dy="3.6"> = 2E-05</tspan></text>
<text transform="translate(538.1,551.4) scale(1,0.97)" text-anchor="middle" class="eq">y = 0.0015x - 3.8514</text>
<text transform="translate(538.1,565.9) scale(1,0.97)" text-anchor="middle" class="eq2">R<tspan class="sup" dy="-3.6">2</tspan><tspan dy="3.6"> = 0.0101</tspan></text>
</svg>
</body></html>
